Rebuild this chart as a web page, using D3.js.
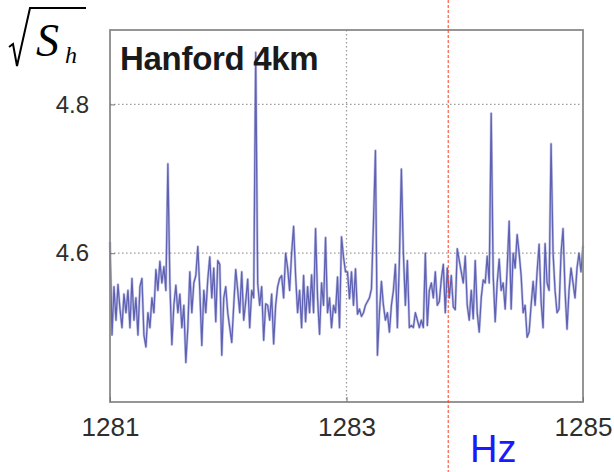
<!DOCTYPE html>
<html>
<head>
<meta charset="utf-8">
<script src="https://cdn.jsdelivr.net/npm/d3@7/dist/d3.min.js"></script>
<style>
  body { margin: 0; background: #fff; }
  svg { display: block; }
</style>
</head>
<body>
<svg id="chart" width="614" height="472"></svg>
<script>
// frequency band shown (Hz)
var freqRange = [1281, 1285];
var ampRange = [4.4, 4.9];
var xTickValues = [1281, 1283, 1285];
var yTickValues = [4.6, 4.8];
var xGridValues = [1283];
var markerFreq = [1283.86];

// amplitude spectral density, evenly spaced bins across freqRange
var asd = [
  4.615, 4.49, 4.555, 4.51, 4.558, 4.525, 4.50, 4.545, 4.52, 4.55,
  4.50, 4.566, 4.51, 4.54, 4.49, 4.555, 4.566, 4.49, 4.474, 4.52,
  4.50, 4.54, 4.52, 4.578, 4.55, 4.589, 4.56, 4.582, 4.55, 4.72,
  4.56, 4.477, 4.53, 4.557, 4.52, 4.545, 4.50, 4.53, 4.453, 4.50,
  4.575, 4.52, 4.56, 4.57, 4.609, 4.55, 4.476, 4.55, 4.52, 4.565,
  4.595, 4.54, 4.58, 4.508, 4.59, 4.585, 4.463, 4.54, 4.555, 4.52,
  4.50, 4.48, 4.53, 4.578, 4.55, 4.52, 4.575, 4.51, 4.535, 4.565,
  4.50, 4.55, 4.54, 4.87, 4.56, 4.53, 4.555, 4.483, 4.532, 4.53,
  4.51, 4.545, 4.478, 4.53, 4.555, 4.566, 4.57, 4.54, 4.60, 4.58,
  4.55, 4.60, 4.636, 4.57, 4.52, 4.55, 4.50, 4.57, 4.508, 4.555,
  4.52, 4.571, 4.52, 4.633, 4.54, 4.491, 4.56, 4.53, 4.621, 4.52,
  4.54, 4.50, 4.53, 4.52, 4.568, 4.50, 4.622, 4.595, 4.575, 4.575,
  4.539, 4.575, 4.53, 4.579, 4.518, 4.525, 4.515, 4.52, 4.53, 4.535,
  4.54, 4.552, 4.64, 4.738, 4.463, 4.52, 4.562, 4.53, 4.51, 4.52,
  4.494, 4.53, 4.55, 4.585, 4.50, 4.59, 4.713, 4.60, 4.53, 4.59,
  4.50, 4.503, 4.50, 4.52, 4.51, 4.50, 4.51, 4.50, 4.60, 4.503,
  4.55, 4.56, 4.54, 4.575, 4.53, 4.535, 4.565, 4.585, 4.52, 4.58,
  4.54, 4.57, 4.528, 4.524, 4.606, 4.59, 4.575, 4.56, 4.596, 4.53,
  4.51, 4.55, 4.512, 4.59, 4.52, 4.494, 4.54, 4.564, 4.56, 4.596,
  4.56, 4.788, 4.57, 4.508, 4.56, 4.592, 4.55, 4.56, 4.525, 4.579,
  4.643, 4.525, 4.60, 4.58, 4.625, 4.60, 4.57, 4.52, 4.53, 4.487,
  4.494, 4.53, 4.562, 4.53, 4.575, 4.612, 4.535, 4.50, 4.613, 4.56,
  4.55, 4.747, 4.60, 4.55, 4.52, 4.525, 4.60, 4.633, 4.55, 4.498,
  4.55, 4.58, 4.56, 4.54, 4.58, 4.60, 4.575, 4.61
];

var svg = d3.select("#chart");
var plotLeft = 110, plotRight = 583, plotTop = 30, plotBottom = 402;

var x = d3.scaleLinear().domain(freqRange).range([plotLeft, plotRight]);
var y = d3.scaleLinear().domain(ampRange).range([plotBottom, plotTop]);
var binToFreq = d3.scaleLinear().domain([0, asd.length - 1]).range(freqRange);

// grid
svg.append("g").selectAll("line")
    .data(yTickValues)
    .enter().append("line")
    .attr("x1", plotLeft).attr("x2", plotRight)
    .attr("y1", function(d) { return y(d); })
    .attr("y2", function(d) { return y(d); })
    .attr("stroke", "#9a9a9a")
    .attr("stroke-width", 1.3)
    .attr("stroke-dasharray", "1.5,2.5");

svg.append("g").selectAll("line")
    .data(xGridValues)
    .enter().append("line")
    .attr("x1", function(d) { return x(d); })
    .attr("x2", function(d) { return x(d); })
    .attr("y1", plotTop).attr("y2", plotBottom)
    .attr("stroke", "#9a9a9a")
    .attr("stroke-width", 1.3)
    .attr("stroke-dasharray", "1.5,2.5");

// trace: soft halo under a darker core, like the blurred original
var line = d3.line()
    .x(function(d, i) { return x(binToFreq(i)); })
    .y(function(d) { return y(d); });

svg.append("path")
    .datum(asd)
    .attr("d", line)
    .attr("fill", "none")
    .attr("stroke", "#9a9dd6")
    .attr("stroke-width", 2.6)
    .attr("stroke-opacity", 0.55)
    .attr("stroke-linejoin", "round");

svg.append("path")
    .datum(asd)
    .attr("d", line)
    .attr("fill", "none")
    .attr("stroke", "#5357ad")
    .attr("stroke-width", 1.3)
    .attr("stroke-opacity", 0.9)
    .attr("stroke-linejoin", "round");

// frame
svg.append("rect")
    .attr("x", plotLeft).attr("y", plotTop)
    .attr("width", plotRight - plotLeft).attr("height", plotBottom - plotTop)
    .attr("fill", "none")
    .attr("stroke", "#8a8a8a")
    .attr("stroke-width", 1.8);

// axes (ticks inward, labels outside)
var xAxis = d3.axisBottom(x).tickValues(xTickValues).tickFormat(d3.format("d")).tickSizeInner(-5).tickSizeOuter(0).tickPadding(16);
var gx = svg.append("g").attr("transform", "translate(0," + plotBottom + ")").call(xAxis);
gx.select(".domain").remove();
gx.selectAll("line").attr("stroke", "#777");
gx.selectAll("text")
    .attr("font-family", "Liberation Sans, Arial, sans-serif")
    .attr("font-size", 26)
    .attr("fill", "#2e2e2e");

var yAxis = d3.axisLeft(y).tickValues(yTickValues).tickFormat(d3.format(".1f")).tickSizeInner(-5).tickSizeOuter(0).tickPadding(21);
var gy = svg.append("g").attr("transform", "translate(" + plotLeft + ",0)").call(yAxis);
gy.select(".domain").remove();
gy.selectAll("line").attr("stroke", "#777");
gy.selectAll("text")
    .attr("font-family", "Liberation Sans, Arial, sans-serif")
    .attr("font-size", 24)
    .attr("fill", "#2e2e2e");

// title inside the box
svg.append("text")
    .attr("x", plotLeft + 10)
    .attr("y", 70)
    .attr("font-family", "Liberation Sans, Arial, sans-serif")
    .attr("font-weight", "bold")
    .attr("font-size", 33)
    .attr("letter-spacing", -0.3)
    .attr("fill", "#1a1a1a")
    .text("Hanford 4km");

// sqrt(S_h) label
var lab = svg.append("g");
lab.append("path")
    .attr("d", "M9,47 L13,44 L17,66 L30,8 L86,8")
    .attr("fill", "none")
    .attr("stroke", "#000")
    .attr("stroke-width", 2);
lab.append("text")
    .attr("x", 36).attr("y", 56)
    .attr("font-family", "Liberation Serif, Times New Roman, serif")
    .attr("font-style", "italic")
    .attr("font-size", 46)
    .text("S");
lab.append("text")
    .attr("x", 65).attr("y", 63)
    .attr("font-family", "Liberation Serif, Times New Roman, serif")
    .attr("font-style", "italic")
    .attr("font-size", 24)
    .text("h");

// red marker line and unit
svg.append("g").selectAll("line")
    .data(markerFreq)
    .enter().append("line")
    .attr("x1", function(d) { return x(d); })
    .attr("x2", function(d) { return x(d); })
    .attr("y1", 0).attr("y2", 472)
    .attr("stroke", "#ff3b1a")
    .attr("stroke-width", 1)
    .attr("stroke-dasharray", "3,2");

svg.append("text")
    .attr("x", 470)
    .attr("y", 462)
    .attr("font-family", "Liberation Sans, Arial, sans-serif")
    .attr("font-size", 38)
    .attr("fill", "#1a1aff")
    .text("Hz");
</script>
</body>
</html>
